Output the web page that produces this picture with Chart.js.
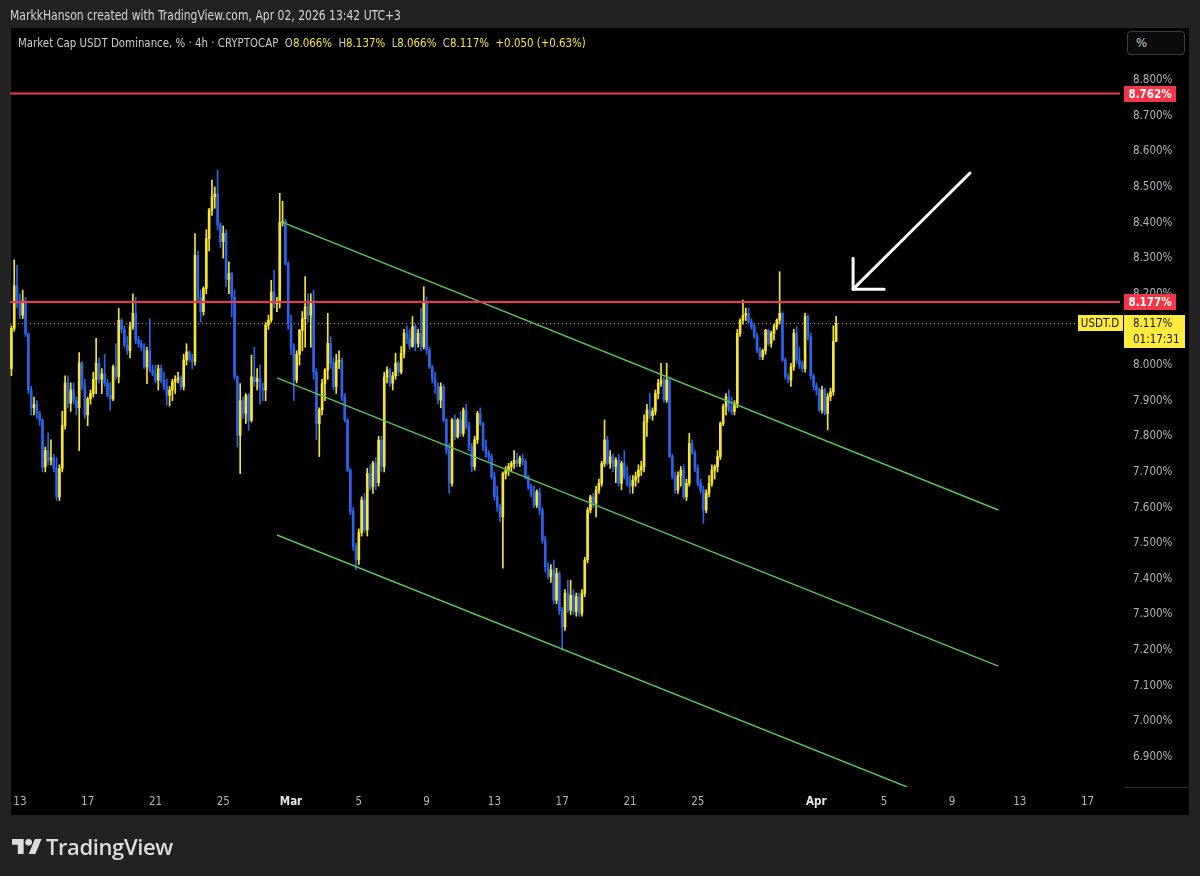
<!DOCTYPE html>
<html>
<head>
<meta charset="utf-8">
<script src="https://cdn.jsdelivr.net/npm/chart.js@4.4.1/dist/chart.umd.min.js"></script>
<style>
html,body{margin:0;padding:0;background:#222222;width:1200px;height:876px;overflow:hidden;}
#wrap{position:relative;width:1200px;height:876px;}
#chart{position:absolute;left:0;top:0;}
.txt{position:absolute;white-space:nowrap;font-family:"DejaVu Sans Condensed","Liberation Sans",sans-serif;transform-origin:0 50%;}
#credit{left:10px;top:7px;font-size:13.5px;color:#d1d4dc;transform:scaleX(0.89);}
#title{left:18px;top:35px;font-size:13px;color:#c9ccd4;transform:scaleX(0.875);}
#title .v{color:#f5e33b;}
#pct{left:1127px;top:31px;width:58px;height:24px;border:1px solid #3a3d45;border-radius:4px;box-sizing:border-box;background:#0b0b0b;color:#d1d4dc;font-size:13px;padding-left:8px;line-height:22px;}
#logo{position:absolute;left:12px;top:834px;height:24px;display:flex;align-items:center;}
#logo span{font-family:"Open Sans",Inter,sans-serif;font-weight:600;font-size:22px;color:#dcdcdc;margin-left:4px;letter-spacing:-0.4px;}
</style>
</head>
<body>
<div id="wrap">
<canvas id="chart" width="1200" height="876"></canvas>
<div class="txt" id="credit">MarkkHanson created with TradingView.com, Apr 02, 2026 13:42 UTC+3</div>
<div class="txt" id="title">Market Cap USDT Dominance, % · 4h · CRYPTOCAP&nbsp;&nbsp;O<span class="v">8.066%</span>&nbsp;&nbsp;H<span class="v">8.137%</span>&nbsp;&nbsp;L<span class="v">8.066%</span>&nbsp;&nbsp;C<span class="v">8.117%</span>&nbsp;&nbsp;<span class="v">+0.050 (+0.63%)</span></div>
<div class="txt" id="pct">%</div>
<div id="logo"><svg width="30" height="21" viewBox="0 2 36 22"><path fill="#dcdcdc" d="M14 22H7V11H0V4h14v18z"/><circle fill="#dcdcdc" cx="20" cy="8" r="4"/><path fill="#dcdcdc" d="M28 22h-8l7.5-18h8L28 22z"/></svg><span>TradingView</span></div>
</div>
<script>
// ---- DATA (4h candles, USDT.D %, [open, high, low, close]) ----
const startTime = Date.UTC(2026, 1, 12, 12); // first candle: Feb 12 12:00
const candlesFeb = [
[7.990,8.110,7.970,8.103],[8.103,8.295,8.095,8.222],[8.222,8.280,8.160,8.173],[8.173,8.200,8.130,8.140],
[8.140,8.210,8.130,8.180],[8.180,8.190,8.080,8.088],[8.088,8.090,7.920,7.930],[7.930,7.940,7.860,7.880],
[7.880,7.910,7.860,7.890],[7.890,7.900,7.850,7.864],[7.864,7.870,7.830,7.845],[7.845,7.850,7.700,7.714],
[7.714,7.770,7.700,7.760],[7.760,7.810,7.720,7.733],[7.733,7.790,7.720,7.740],[7.740,7.750,7.700,7.710],
[7.710,7.740,7.620,7.630],[7.630,7.720,7.620,7.710],[7.710,7.870,7.700,7.830],[7.830,7.970,7.820,7.950],
[7.950,7.970,7.880,7.892],[7.892,7.950,7.870,7.930],[7.930,7.950,7.890,7.900],[7.900,7.910,7.860,7.880],
[7.880,8.035,7.760,8.005],[8.005,8.010,7.930,7.940],[7.940,7.960,7.850,7.860],[7.860,7.910,7.830,7.905],
[7.905,7.930,7.890,7.920],[7.920,7.980,7.910,7.960],[7.960,8.075,7.920,8.005],[8.005,8.020,7.950,7.960],
[7.960,7.990,7.920,7.975],[7.975,8.030,7.940,7.950],[7.950,7.960,7.910,7.915],[7.915,7.950,7.873,7.905],
[7.905,8.000,7.900,7.995],[7.995,8.060,7.960,7.967],[7.967,8.159,7.950,8.126],[8.126,8.130,8.090,8.100],
[8.100,8.110,8.050,8.056],[8.056,8.080,8.030,8.040],[8.040,8.120,8.020,8.107],[8.107,8.200,8.100,8.145],
[8.145,8.190,8.060,8.070],[8.070,8.080,8.050,8.060],[8.060,8.070,8.040,8.050],[8.050,8.060,7.990,7.995],
[7.995,8.050,7.948,8.040],[8.040,8.130,7.980,7.985],[7.985,8.000,7.970,7.976],[7.976,8.000,7.950,7.957],
[7.957,8.000,7.930,7.990],[7.990,8.000,7.950,7.957],[7.957,7.980,7.930,7.940],[7.940,7.960,7.887,7.915],
[7.915,7.940,7.885,7.930],[7.930,7.960,7.900,7.953],[7.953,7.970,7.920,7.960],[7.960,7.980,7.950,7.965],
[7.965,7.970,7.930,7.940],[7.940,8.030,7.930,8.014],[8.014,8.060,8.000,8.037],[8.037,8.040,8.010,8.015],
[8.015,8.030,7.990,8.010],[8.010,8.369,8.000,8.308],[8.308,8.320,8.180,8.190],[8.190,8.210,8.120,8.150],
[8.150,8.220,8.140,8.215],[8.215,8.380,8.200,8.355],[8.355,8.440,8.320,8.435],[8.435,8.519,8.420,8.472],
[8.472,8.500,8.440,8.480],[8.480,8.547,8.380,8.393],[8.393,8.400,8.330,8.346],[8.346,8.390,8.300,8.370],
[8.370,8.380,8.220,8.240],[8.240,8.290,8.200,8.257],[8.257,8.260,8.135,8.190],[8.190,8.210,7.960,7.967],
[7.967,7.970,7.770,7.803],[7.803,7.948,7.695,7.900],[7.900,7.910,7.850,7.864],[7.864,7.920,7.836,7.915],
[7.915,7.920,7.817,7.845],[7.845,8.028,7.840,7.967],[7.967,8.050,7.940,7.953],[7.953,7.990,7.930,7.962],
[7.962,8.000,7.890,7.935],[7.935,7.950,7.900,7.930],[7.930,8.120,7.900,8.112],[8.112,8.140,8.100,8.126],
[8.126,8.238,8.120,8.205],[8.205,8.266,8.160,8.172],[8.172,8.190,8.150,8.180],[8.180,8.482,8.160,8.400],
[8.400,8.460,8.390,8.402],[8.402,8.410,8.280,8.285],[8.285,8.290,8.100,8.117]
];
const candlesMar = [
[8.117,8.140,8.030,8.050],[8.050,8.060,7.900,7.958],[7.958,8.040,7.950,8.030],[8.030,8.100,8.000,8.098],
[8.098,8.150,8.040,8.130],[8.130,8.248,8.050,8.164],[8.164,8.200,8.120,8.140],[8.140,8.200,8.050,8.180],
[8.180,8.210,7.960,7.980],[7.980,7.990,7.790,7.836],[7.836,7.880,7.743,7.874],[7.874,7.960,7.860,7.948],
[7.948,7.990,7.900,7.986],[7.986,8.145,7.960,8.061],[8.061,8.080,7.990,8.005],[8.005,8.020,7.930,7.939],
[7.939,8.030,7.920,8.009],[8.009,8.040,7.990,8.014],[8.014,8.020,7.900,7.911],[7.911,7.920,7.840,7.846],
[7.846,7.850,7.700,7.705],[7.705,7.710,7.580,7.590],[7.590,7.600,7.480,7.490],[7.490,7.500,7.425,7.453],
[7.453,7.540,7.440,7.530],[7.530,7.630,7.520,7.621],[7.621,7.640,7.530,7.537],[7.537,7.710,7.520,7.696],
[7.696,7.720,7.650,7.659],[7.659,7.730,7.640,7.724],[7.724,7.740,7.650,7.670],[7.670,7.800,7.660,7.789],
[7.789,7.800,7.700,7.715],[7.715,7.980,7.700,7.967],[7.967,7.995,7.950,7.986],[7.986,7.990,7.940,7.949],
[7.949,7.980,7.930,7.970],[7.970,8.033,7.960,8.005],[8.005,8.010,7.970,7.981],[7.981,8.052,7.975,8.033],
[8.033,8.100,8.020,8.089],[8.089,8.110,8.060,8.075],[8.075,8.100,8.045,8.052],[8.052,8.136,8.050,8.108],
[8.108,8.115,8.040,8.061],[8.061,8.100,8.050,8.089],[8.089,8.160,8.040,8.052],[8.052,8.220,8.045,8.178],
[8.178,8.190,8.030,8.042],[8.042,8.050,7.990,7.995],[7.995,8.000,7.950,7.960],[7.960,7.980,7.920,7.940],
[7.940,7.950,7.890,7.902],[7.902,7.950,7.880,7.939],[7.939,7.945,7.840,7.846],[7.846,7.850,7.750,7.761],
[7.761,7.780,7.640,7.668],[7.668,7.850,7.660,7.846],[7.846,7.860,7.790,7.799],[7.799,7.850,7.795,7.846],
[7.846,7.870,7.800,7.808],[7.808,7.880,7.800,7.874],[7.874,7.890,7.820,7.827],[7.827,7.840,7.760,7.771],
[7.771,7.780,7.700,7.715],[7.715,7.800,7.705,7.790],[7.790,7.870,7.780,7.864],[7.864,7.880,7.830,7.836],
[7.836,7.840,7.760,7.771],[7.771,7.790,7.740,7.752],[7.752,7.760,7.730,7.743],[7.743,7.750,7.680,7.687],
[7.687,7.700,7.620,7.631],[7.631,7.660,7.590,7.602],[7.602,7.610,7.560,7.574],[7.574,7.700,7.430,7.696],
[7.696,7.715,7.680,7.705],[7.705,7.724,7.690,7.715],[7.715,7.730,7.700,7.724],[7.724,7.760,7.710,7.733],
[7.733,7.752,7.715,7.724],[7.724,7.745,7.715,7.738],[7.738,7.750,7.720,7.730],[7.730,7.735,7.680,7.687],
[7.687,7.690,7.650,7.659],[7.659,7.665,7.630,7.640],[7.640,7.660,7.600,7.607],[7.607,7.650,7.600,7.645],
[7.645,7.655,7.580,7.593],[7.593,7.600,7.500,7.509],[7.509,7.520,7.420,7.434],[7.434,7.445,7.400,7.406],
[7.406,7.440,7.390,7.425],[7.425,7.453,7.330,7.340],[7.340,7.430,7.330,7.415],[7.415,7.420,7.300,7.310]
];
const candlesLate = [
[7.310,7.320,7.200,7.265],[7.265,7.370,7.255,7.360],[7.360,7.396,7.305,7.312],[7.312,7.396,7.300,7.354],
[7.354,7.370,7.300,7.308],[7.308,7.360,7.295,7.350],[7.350,7.360,7.295,7.303],[7.303,7.370,7.295,7.359],
[7.359,7.460,7.350,7.453],[7.453,7.600,7.445,7.593],[7.593,7.635,7.585,7.630],[7.630,7.640,7.600,7.612],
[7.612,7.660,7.574,7.649],[7.649,7.680,7.640,7.668],[7.668,7.730,7.660,7.724],[7.724,7.846,7.715,7.790],
[7.790,7.800,7.720,7.724],[7.724,7.760,7.710,7.743],[7.743,7.750,7.700,7.715],[7.715,7.740,7.670,7.733],
[7.733,7.750,7.660,7.668],[7.668,7.730,7.650,7.724],[7.724,7.760,7.680,7.687],[7.687,7.715,7.660,7.668],
[7.668,7.690,7.640,7.660],[7.660,7.690,7.640,7.677],[7.677,7.700,7.660,7.687],[7.687,7.720,7.670,7.705],
[7.705,7.730,7.690,7.715],[7.715,7.860,7.700,7.840],[7.840,7.890,7.800,7.874],[7.874,7.920,7.850,7.858],
[7.858,7.880,7.845,7.870],[7.870,7.930,7.860,7.920],[7.920,7.960,7.905,7.949],[7.949,8.005,7.940,7.958],
[7.958,7.965,7.895,7.902],[7.902,8.005,7.895,7.958],[7.958,7.965,7.740,7.743],[7.743,7.750,7.680,7.687],
[7.687,7.700,7.640,7.649],[7.649,7.700,7.640,7.690],[7.690,7.715,7.660,7.705],[7.705,7.720,7.625,7.630],
[7.630,7.680,7.620,7.668],[7.668,7.808,7.660,7.780],[7.780,7.790,7.750,7.752],[7.752,7.760,7.700,7.710],
[7.710,7.720,7.660,7.668],[7.668,7.680,7.640,7.649],[7.649,7.660,7.556,7.593],[7.593,7.650,7.585,7.640],
[7.640,7.690,7.630,7.668],[7.668,7.720,7.660,7.705],[7.705,7.720,7.680,7.715],[7.715,7.760,7.700,7.743],
[7.743,7.840,7.735,7.836],[7.836,7.890,7.830,7.883],[7.883,7.920,7.860,7.911],[7.911,7.930,7.870,7.874],
[7.874,7.910,7.860,7.870],[7.870,7.900,7.860,7.892],[7.892,8.100,7.880,8.089],[8.089,8.130,8.080,8.126],
[8.126,8.182,8.115,8.140],[8.140,8.160,8.125,8.145],[8.145,8.160,8.115,8.122],[8.122,8.130,8.100,8.108],
[8.108,8.115,8.075,8.080],[8.080,8.090,8.035,8.042],[8.042,8.050,8.015,8.023],[8.023,8.045,8.015,8.040],
[8.040,8.100,8.030,8.098],[8.098,8.100,8.055,8.061],[8.061,8.095,8.050,8.089],[8.089,8.115,8.070,8.108],
[8.108,8.130,8.100,8.126],[8.126,8.262,8.115,8.145],[8.145,8.150,8.010,8.014],[8.014,8.020,7.960,7.967],
[7.967,7.975,7.950,7.958],[7.958,8.005,7.940,7.995],[7.995,8.100,7.985,8.089],[8.089,8.108,8.005,8.014],
[8.014,8.050,7.990,8.000],[8.000,8.010,7.980,7.990],[7.990,8.145,7.980,8.136],[8.136,8.140,8.070,8.080],
[8.080,8.090,7.960,7.970],[7.970,7.975,7.930,7.940],[7.940,7.950,7.915,7.930],[7.930,7.935,7.870,7.874],
[7.874,7.940,7.865,7.930],[7.930,7.935,7.860,7.864],[7.864,7.920,7.818,7.911],[7.911,7.935,7.900,7.925],
[7.925,8.110,7.915,8.066],[8.066,8.137,8.066,8.117]
];
// time axis labels
const tickDates = ['2026-02-13','2026-02-17','2026-02-21','2026-02-25','2026-03-01','2026-03-05','2026-03-09','2026-03-13','2026-03-17','2026-03-21','2026-03-25','2026-04-01','2026-04-05','2026-04-09','2026-04-13','2026-04-17'];
const tickLabels = ['13','17','21','25','Mar','5','9','13','17','21','25','Apr','5','9','13','17'];
const priceTicks = [6.9,7.0,7.1,7.2,7.3,7.4,7.5,7.6,7.7,7.8,7.9,8.0,8.1,8.2,8.3,8.4,8.5,8.6,8.7,8.8];
const visibleSlots = 393;          // 4h slots shown on the time axis
const priceRange = [6.8158, 8.9403];
// horizontal levels drawn on chart
const levelHigh = 8.762;
const levelMid = 8.177;
const lastClose = 8.117;
const countdown = '01:17:31';
// drawn trend channel (x = candle index, y = %)
const channelTop = [{x:95.8,y:8.401},{x:349.4,y:7.593}];
const channelMid = [{x:94.0,y:7.964},{x:349.4,y:7.155}];
const channelLow = [{x:94.0,y:7.523},{x:317.1,y:6.816}];
const arrowShaft = [{x:339.4,y:8.539},{x:298.0,y:8.213}];
const arrowHead = [{x:298.0,y:8.300},{x:298.0,y:8.213},{x:309.0,y:8.213}];

// ---- build ----
const candles = [...candlesFeb, ...candlesMar, ...candlesLate];
const UP = '#f7e62f', DOWN = '#2d63ea';
const bodyData = candles.map((c,i)=>({x:i, y:[c[0], c[3]]}));
const wickData = candles.map((c,i)=>({x:i, y:[c[2], c[1]]}));
const cols = candles.map(c => c[3] >= c[0] ? UP : DOWN);
const tickIdx = tickDates.map(d => (Date.parse(d+'T00:00:00Z') - startTime) / (4*3600*1000));
const FONT = '"DejaVu Sans Condensed","Liberation Sans",sans-serif';

const tvPlugin = {
  id: 'tv',
  beforeDraw(chart) {
    const c = chart.ctx;
    c.save();
    c.fillStyle = '#222222'; c.fillRect(0,0,1200,876);
    c.fillStyle = '#000000'; c.fillRect(11, 28, 1178, 787);
    c.strokeStyle = '#2b2b2b'; c.lineWidth = 1;
    c.beginPath(); c.moveTo(1124, 787.5); c.lineTo(1189, 787.5); c.stroke();
    c.restore();
  },
  beforeDatasetsDraw(chart) {
    const c = chart.ctx, y = Math.round(chart.scales.y.getPixelForValue(lastClose)) + 0.5;
    c.save();
    c.strokeStyle = '#a39d62'; c.lineWidth = 1; c.setLineDash([1,3]);
    c.beginPath(); c.moveTo(chart.chartArea.left, y); c.lineTo(1124, y); c.stroke();
    c.restore();
  },
  afterDraw(chart) {
    const c = chart.ctx, ys = chart.scales.y;
    c.save();
    c.textBaseline = 'middle';
    function redBox(v) {
      const y = Math.round(ys.getPixelForValue(v));
      c.fillStyle = '#f23645'; c.fillRect(1124, y-8, 52, 16);
      c.fillStyle = '#ffffff'; c.font = 'bold 11.5px ' + FONT; c.textAlign = 'center';
      c.fillText(v.toFixed(3) + '%', 1150, y+1);
    }
    redBox(levelHigh); redBox(levelMid);
    const y = Math.round(ys.getPixelForValue(lastClose));
    c.fillStyle = '#ffeb3b';
    c.fillRect(1078, y-8, 45, 16);
    c.fillRect(1124, y-8, 61, 33);
    c.fillStyle = '#131313'; c.font = '11.5px ' + FONT; c.textAlign = 'center';
    c.fillText('USDT.D', 1100, y+1);
    c.textAlign = 'left';
    c.fillText(lastClose.toFixed(3) + '%', 1133, y+1);
    c.fillText(countdown, 1133, y+17);
    c.restore();
  }
};

new Chart(document.getElementById('chart'), {
  data: {
    datasets: [
      {type:'line', data: arrowShaft, borderColor:'#ffffff', borderWidth:3, pointRadius:0, borderCapStyle:'round', order:0},
      {type:'line', data: arrowHead, borderColor:'#ffffff', borderWidth:3, pointRadius:0, borderCapStyle:'round', borderJoinStyle:'round', order:0},
      {type:'line', data: [{x:-0.5,y:levelHigh},{x:visibleSlots-0.5,y:levelHigh}], borderColor:'#f23645', borderWidth:2, pointRadius:0, order:1},
      {type:'line', data: [{x:-0.5,y:levelMid},{x:visibleSlots-0.5,y:levelMid}], borderColor:'#f23645', borderWidth:2, pointRadius:0, order:1},
      {type:'line', data: channelTop, borderColor:'#5cc25c', borderWidth:1.5, pointRadius:0, order:2},
      {type:'line', data: channelMid, borderColor:'#5cc25c', borderWidth:1.5, pointRadius:0, order:2},
      {type:'line', data: channelLow, borderColor:'#5cc25c', borderWidth:1.5, pointRadius:0, order:2},
      {type:'bar', data: bodyData, backgroundColor: cols, barThickness: 2, grouped:false, minBarLength:1, order:3},
      {type:'bar', data: wickData, backgroundColor: cols, barThickness: 1, grouped:false, order:4}
    ]
  },
  options: {
    responsive:false, animation:false, devicePixelRatio:1,
    layout:{padding:{left:10, right:11, top:30, bottom:61}},
    plugins:{legend:{display:false}, tooltip:{enabled:false}},
    scales:{
      x:{type:'linear', min:-0.5, max:visibleSlots-0.5, offset:false,
         grid:{display:false, drawTicks:false}, border:{display:false},
         afterFit(s){ s.height = 28; },
         afterBuildTicks(s){ s.ticks = tickIdx.map(v=>({value:v})); },
         ticks:{autoSkip:false, maxRotation:0, padding:8,
           callback(v){ const k = tickIdx.indexOf(v); return k>=0 ? tickLabels[k] : ''; },
           color(ctx){ const l = ctx.tick && ctx.tick.label; return (l==='Mar'||l==='Apr') ? '#e6e6e6' : '#b2b5be'; },
           font(ctx){ const l = ctx.tick && ctx.tick.label; return {family:FONT, size:11.5, weight:(l==='Mar'||l==='Apr')?'bold':'normal'}; }
         }},
      y:{position:'right', min:priceRange[0], max:priceRange[1],
         grid:{display:false, drawTicks:false}, border:{display:false},
         afterFit(s){ s.width = 69; },
         afterBuildTicks(s){ s.ticks = priceTicks.map(v=>({value:v})); },
         ticks:{padding:13, color:'#b2b5be', font:{family:FONT, size:11.5},
           callback(v){ return v.toFixed(3) + '%'; }}}
    }
  },
  plugins:[tvPlugin]
});
</script>
</body>
</html>
